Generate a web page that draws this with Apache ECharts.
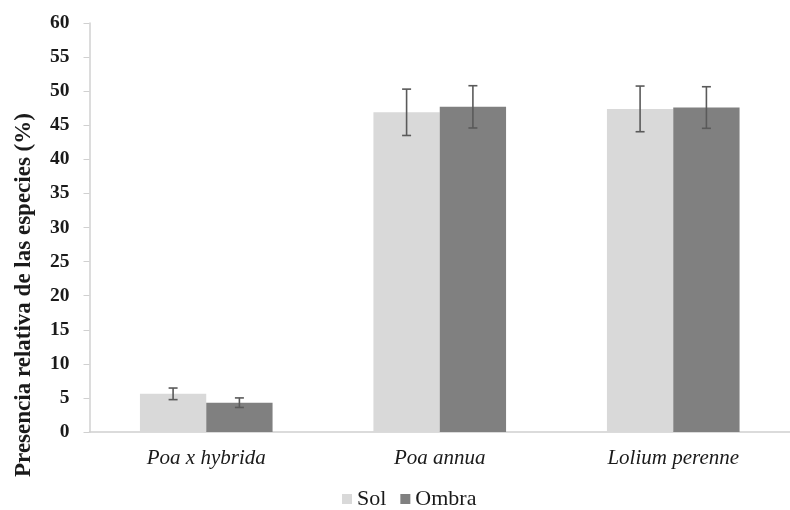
<!DOCTYPE html>
<html>
<head>
<meta charset="utf-8">
<script src="https://cdn.jsdelivr.net/npm/echarts@6/dist/echarts.min.js"></script>
<style>
  html, body { margin: 0; padding: 0; background: #fff; }
  #chart { width: 790px; height: 510px; }
</style>
</head>
<body>
<div id="chart"></div>
<script>
// Species and relative presence (%) under sun and shade, with standard errors
const categories = ['Poa x hybrida', 'Poa annua', 'Lolium perenne'];
const seriesNames = ['Sol', 'Ombra'];
const solValues = [5.6, 46.9, 47.4];
const ombraValues = [4.3, 47.7, 47.6];
const solErrors = [0.85, 3.4, 3.35];
const ombraErrors = [0.7, 3.1, 3.05];
const yTicks = { min: 0, max: 60, interval: 5 };

const colors = { sol: '#d9d9d9', ombra: '#808080', err: '#5a5a5a', axis: '#d0d0d0', text: '#1a1a1a' };
const barFrac = 0.284; // bar width as a share of the category band

function errorSeries(values, errors, side) {
  return {
    type: 'custom',
    name: side < 0 ? 'errSol' : 'errOmbra',
    z: 5,
    silent: true,
    data: values.map((v, i) => [i, v - errors[i], v + errors[i]]),
    renderItem: function (params, api) {
      const i = api.value(0);
      const band = api.size([1, 0])[0];
      const dx = side * band * barFrac / 2;
      const lo = api.coord([i, api.value(1)]);
      const hi = api.coord([i, api.value(2)]);
      const x = lo[0] + dx;
      const cap = 4.5;
      const style = { stroke: colors.err, lineWidth: 1.6 };
      return {
        type: 'group',
        children: [
          { type: 'line', shape: { x1: x, y1: hi[1], x2: x, y2: lo[1] }, style: style },
          { type: 'line', shape: { x1: x - cap, y1: hi[1], x2: x + cap, y2: hi[1] }, style: style },
          { type: 'line', shape: { x1: x - cap, y1: lo[1], x2: x + cap, y2: lo[1] }, style: style }
        ]
      };
    }
  };
}

const chart = echarts.init(document.getElementById('chart'));
chart.setOption({
  animation: false,
  grid: { left: 89.5, top: 23, width: 713, height: 409 },
  legend: {
    data: [
      { name: seriesNames[0], icon: 'rect' },
      { name: seriesNames[1], icon: 'rect' }
    ],
    left: 342, top: 488, padding: 0,
    itemWidth: 10, itemHeight: 10, itemGap: 14,
    textStyle: { fontFamily: 'Liberation Serif', fontSize: 22, color: colors.text }
  },
  xAxis: {
    type: 'category',
    data: categories,
    axisLine: { lineStyle: { color: colors.axis, width: 1.5 } },
    axisTick: { show: false },
    axisLabel: {
      margin: 16,
      fontFamily: 'Liberation Serif', fontStyle: 'italic', fontSize: 21, color: colors.text
    }
  },
  yAxis: {
    type: 'value',
    min: yTicks.min, max: yTicks.max, interval: yTicks.interval,
    splitLine: { show: false },
    axisLine: { show: true, lineStyle: { color: colors.axis, width: 1.5 } },
    axisTick: { show: true, length: 6, lineStyle: { color: colors.axis } },
    axisLabel: {
      margin: 20,
      fontFamily: 'Liberation Serif', fontWeight: 'bold', fontSize: 19.5, color: colors.text
    }
  },
  graphic: [{
    type: 'text',
    x: 24, y: 295,
    rotation: Math.PI / 2,
    style: {
      text: 'Presencia relativa de las especies (%)',
      fontFamily: 'Liberation Serif', fontWeight: 'bold', fontSize: 23,
      fill: colors.text, align: 'center', verticalAlign: 'middle'
    }
  }],
  series: [
    {
      name: seriesNames[0], type: 'bar', data: solValues,
      barWidth: (barFrac * 100) + '%', barGap: '0%',
      itemStyle: { color: colors.sol }
    },
    {
      name: seriesNames[1], type: 'bar', data: ombraValues,
      barWidth: (barFrac * 100) + '%', barGap: '0%',
      itemStyle: { color: colors.ombra }
    },
    errorSeries(solValues, solErrors, -1),
    errorSeries(ombraValues, ombraErrors, 1)
  ]
});
</script>
</body>
</html>
